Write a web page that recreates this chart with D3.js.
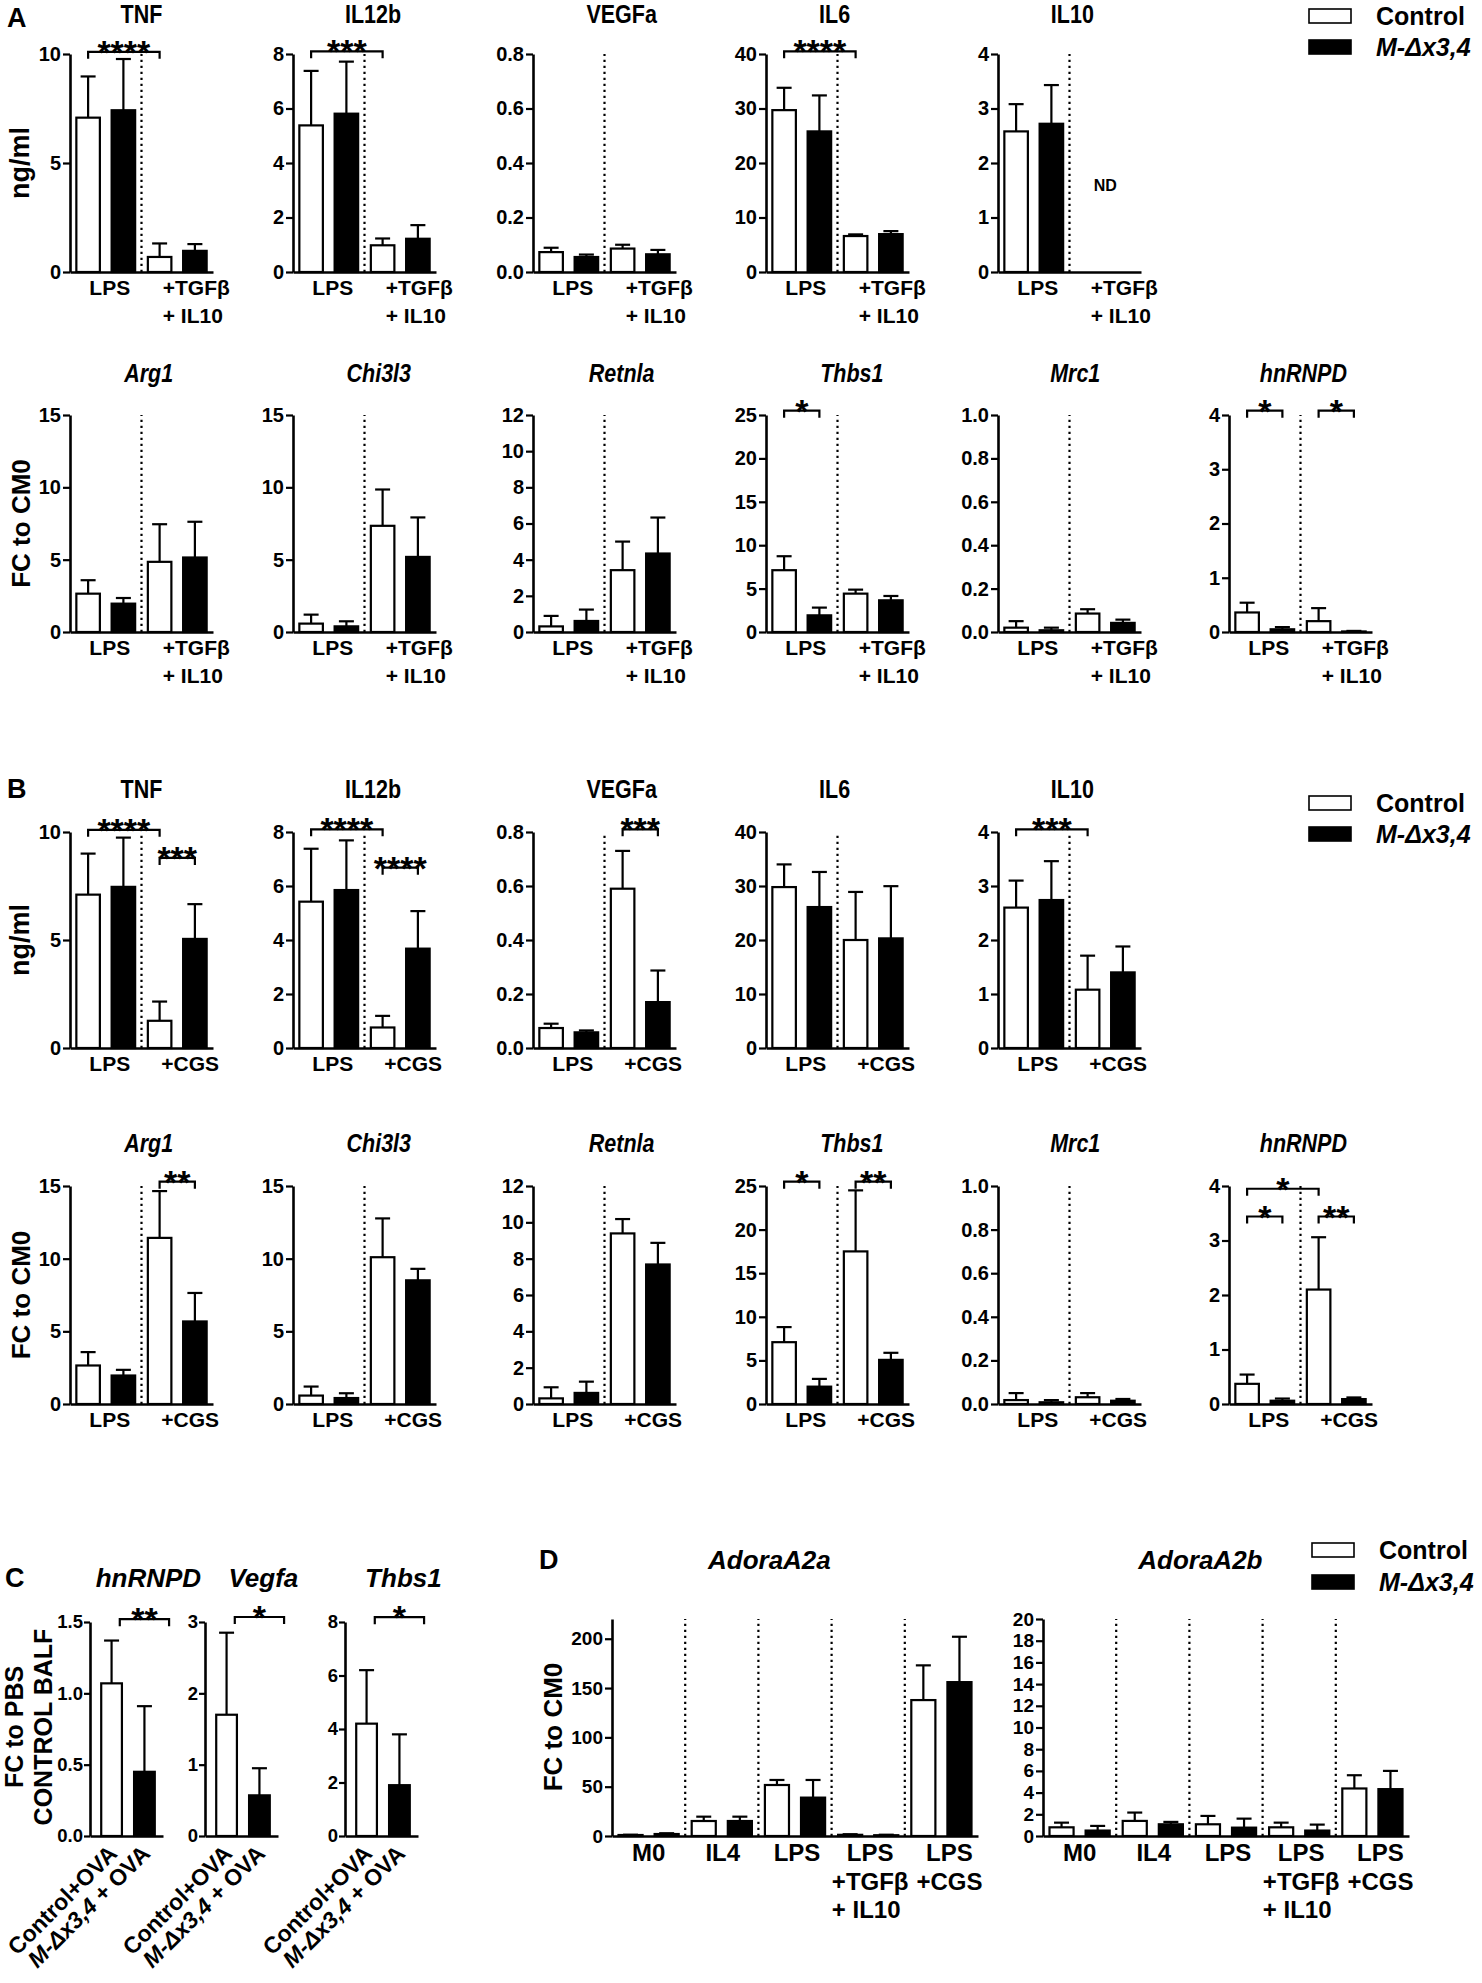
<!DOCTYPE html>
<html><head><meta charset="utf-8">
<script src="https://cdn.jsdelivr.net/npm/d3@7"></script>
<style>body{margin:0;background:#fff}</style>
</head><body>
<svg id="fig" width="1482" height="1983" xmlns="http://www.w3.org/2000/svg"></svg>
<script>
// ================= DATA =================
const seriesNames = ["Control", "M-Δx3,4"];
const groupsTGF = [["LPS"], ["+TGFβ", "+ IL10"]];
const groupsCGS = [["LPS"], ["+CGS"]];
const groupsD = [["M0"], ["IL4"], ["LPS"], ["LPS", "+TGFβ", "+ IL10"], ["LPS", "+CGS"]];
const catsC = ["Control+OVA", "M-Δx3,4 + OVA"];

// ---- A, top row: cytokines (ng/ml), LPS vs LPS+TGFβ+IL10 ----
const cytoTitles = ["TNF", "IL12b", "VEGFa", "IL6", "IL10"];
const cytoTicks = [["0","5","10"], ["0","2","4","6","8"], ["0.0","0.2","0.4","0.6","0.8"], ["0","10","20","30","40"], ["0","1","2","3","4"]];
// mean[panel][group][series]
const a1Mean = [
  [[7.08, 7.42], [0.69, 0.97]],
  [[5.38, 5.81], [0.98, 1.22]],
  [[0.073, 0.055], [0.086, 0.065]],
  [[29.7, 25.8], [6.6, 6.95]],
  [[2.58, 2.72], [null, null]]
];
// mean + error (top of error bar)
const a1Err = [
  [[8.97, 9.77], [1.31, 1.28]],
  [[7.38, 7.72], [1.23, 1.72]],
  [[0.089, 0.064], [0.10, 0.081]],
  [[33.8, 32.4], [6.9, 7.5]],
  [[3.08, 3.43], [null, null]]
];
const a1Sig = [
  [{a: 0, b: 2, y: 10.1, t: "****"}],
  [{a: 0, b: 2, y: 8.1, t: "***"}],
  [],
  [{a: 0, b: 2, y: 40.5, t: "****"}],
  []
];
const a1NotDetected = [null, null, null, null, {group: 1, text: "ND"}];

// ---- A, bottom row: genes (FC to CM0) ----
const geneTitles = ["Arg1", "Chi3l3", "Retnla", "Thbs1", "Mrc1", "hnRNPD"];
const geneTicks = [["0","5","10","15"], ["0","5","10","15"], ["0","2","4","6","8","10","12"], ["0","5","10","15","20","25"], ["0.0","0.2","0.4","0.6","0.8","1.0"], ["0","1","2","3","4"]];
const a2Mean = [
  [[2.65, 1.96], [4.85, 5.15]],
  [[0.58, 0.39], [7.34, 5.19]],
  [[0.31, 0.61], [3.42, 4.34]],
  [[7.12, 1.92], [4.42, 3.65]],
  [[0.02, 0.008], [0.085, 0.042]],
  [[0.36, 0.05], [0.2, 0.01]]
];
const a2Err = [
  [[3.58, 2.35], [7.45, 7.62]],
  [[1.2, 0.74], [9.85, 7.92]],
  [[0.89, 1.24], [5.0, 6.33]],
  [[8.73, 2.81], [4.88, 4.15]],
  [[0.05, 0.02], [0.105, 0.057]],
  [[0.54, 0.09], [0.44, 0.02]]
];
const a2Sig = [
  [], [], [],
  [{a: 0, b: 1, y: 25.5, t: "*"}],
  [],
  [{a: 0, b: 1, y: 4.08, t: "*"}, {a: 2, b: 3, y: 4.08, t: "*"}]
];

// ---- B, top row: cytokines, LPS vs LPS+CGS ----
const b1Mean = [
  [[7.1, 7.46], [1.26, 5.05]],
  [[5.42, 5.85], [0.76, 3.68]],
  [[0.074, 0.058], [0.59, 0.17]],
  [[29.8, 26.1], [20.0, 20.3]],
  [[2.6, 2.74], [1.08, 1.4]]
];
const b1Err = [
  [[9.0, 9.74], [2.15, 6.66]],
  [[7.38, 7.69], [1.19, 5.07]],
  [[0.09, 0.065], [0.73, 0.287]],
  [[34.0, 32.6], [28.9, 29.97]],
  [[3.1, 3.46], [1.71, 1.88]]
];
const b1Sig = [
  [{a: 0, b: 2, y: 10.1, t: "****"}, {a: 2, b: 3, y: 8.8, t: "***"}],
  [{a: 0, b: 2, y: 8.1, t: "****"}, {a: 2, b: 3, y: 6.68, t: "****"}],
  [{a: 2, b: 3, y: 0.81, t: "***"}],
  [],
  [{a: 0, b: 2, y: 4.05, t: "***"}]
];

// ---- B, bottom row: genes, LPS vs LPS+CGS ----
const b2Mean = [
  [[2.65, 1.96], [11.43, 5.68]],
  [[0.58, 0.41], [10.1, 8.51]],
  [[0.31, 0.61], [9.39, 7.68]],
  [[7.09, 1.99], [17.5, 5.06]],
  [[0.018, 0.008], [0.031, 0.015]],
  [[0.37, 0.06], [2.1, 0.09]]
];
const b2Err = [
  [[3.57, 2.35], [14.65, 7.64]],
  [[1.2, 0.74], [12.77, 9.3]],
  [[0.92, 1.23], [10.18, 8.87]],
  [[8.82, 2.88], [24.5, 5.87]],
  [[0.05, 0.018], [0.05, 0.023]],
  [[0.54, 0.1], [3.06, 0.12]]
];
const b2Sig = [
  [{a: 2, b: 3, y: 15.3, t: "**"}],
  [], [],
  [{a: 0, b: 1, y: 25.5, t: "*"}, {a: 2, b: 3, y: 25.5, t: "**"}],
  [],
  [{a: 0, b: 2, y: 3.95, t: "*"}, {a: 0, b: 1, y: 3.44, t: "*"}, {a: 2, b: 3, y: 3.44, t: "**"}]
];

// ---- C: BALF (FC to PBS control BALF) ----
const cTitles = ["hnRNPD", "Vegfa", "Thbs1"];
const cTicks = [["0.0","0.5","1.0","1.5"], ["0","1","2","3"], ["0","2","4","6","8"]];
const cMean = [[1.07, 0.45], [1.7, 0.57], [4.2, 1.9]];
const cErr = [[1.37, 0.91], [2.85, 0.95], [6.2, 3.8]];
const cSig = [
  [{a: 0.25, b: 1.75, y: 1.52, t: "**"}],
  [{a: 0.25, b: 1.75, y: 3.07, t: "*"}],
  [{a: 0.25, b: 1.75, y: 8.18, t: "*"}]
];

// ---- D: adenosine receptors (FC to CM0) ----
const dTitles = ["AdoraA2a", "AdoraA2b"];
const dTicks = [["0","50","100","150","200"], ["0","2","4","6","8","10","12","14","16","18","20"]];
const dAxisMax = [220, 20];
const dMean = [
  [[1.0, 2.0], [15.2, 15.2], [51.7, 38.9], [1.2, 0.8], [137.8, 156]],
  [[0.8, 0.5], [1.39, 1.08], [1.08, 0.77], [0.8, 0.5], [4.38, 4.32]]
];
const dErr = [
  [[1.3, 2.8], [19.6, 19.6], [56.8, 56.8], [1.8, 1.3], [173, 202]],
  [[1.23, 0.93], [2.16, 1.3], [1.85, 1.6], [1.23, 1.05], [5.6, 6.0]]
];

// ================= DRAWING =================
const svg = d3.select("#fig");
svg.append("rect").attr("width", 1482).attr("height", 1983).attr("fill", "#fff");
const SANS = "'Liberation Sans',Arial,Helvetica,sans-serif";

function italicLabel(sel, text) {
  const m = "M-Δx3,4";
  if (text.startsWith(m)) {
    sel.append("tspan").attr("font-style", "italic").text(m);
    const rest = text.slice(m.length);
    if (rest) sel.append("tspan").text(rest);
  } else sel.text(text);
}

function drawPanel(o) {
  const g = svg.append("g");
  const yMax = o.yMax != null ? o.yMax : +o.ticks[o.ticks.length - 1];
  const y = d3.scaleLinear().domain([0, yMax]).range([o.base, o.top]);
  const nG = o.mean.length;
  const xg = d3.scaleBand().domain(d3.range(nG)).range([o.x0 + (o.padL || 0), o.x0 + o.w]);
  const xs = d3.scaleBand().domain([0, 1]).range([0, xg.bandwidth()]).paddingInner(o.pin).paddingOuter(o.pout);
  const bw = xs.bandwidth();
  const centers = [];
  for (let gi = 0; gi < nG; gi++) for (let s = 0; s < 2; s++) centers.push(xg(gi) + xs(s) + bw / 2);
  const cx = i => {
    const n = centers.length;
    const lo = Math.max(0, Math.min(n - 2, Math.floor(i)));
    return centers[lo] + (i - lo) * (centers[lo + 1] - centers[lo]);
  };

  if (o.dividers) {
    for (let gi = 1; gi < nG; gi++) {
      g.append("line").attr("x1", xg(gi)).attr("x2", xg(gi))
        .attr("y1", o.base).attr("y2", o.top)
        .attr("stroke", "#000").attr("stroke-width", 2.2).attr("stroke-dasharray", "2.2,3.8");
    }
  }

  o.mean.forEach((grp, gi) => grp.forEach((m, s) => {
    if (m == null) return;
    const x = xg(gi) + xs(s), c = x + bw / 2;
    const t = o.err[gi][s];
    if (t != null && t > m) {
      g.append("line").attr("x1", c).attr("x2", c).attr("y1", y(m)).attr("y2", y(t))
        .attr("stroke", "#000").attr("stroke-width", 2.2);
      g.append("line").attr("x1", c - 7.5).attr("x2", c + 7.5).attr("y1", y(t)).attr("y2", y(t))
        .attr("stroke", "#000").attr("stroke-width", 2.2);
    }
    g.append("rect").attr("x", x).attr("y", y(m)).attr("width", bw)
      .attr("height", Math.max(0, o.base - y(m)))
      .attr("fill", s ? "#000" : "#fff").attr("stroke", "#000").attr("stroke-width", 2.2);
  }));

  const xl = d3.scaleLinear().domain([0, 1]).range([o.x0, o.x0 + o.w]);
  g.append("g").attr("transform", `translate(0,${o.base})`)
    .call(d3.axisBottom(xl).tickValues([]).tickSizeOuter(0))
    .select(".domain").attr("stroke", "#000").attr("stroke-width", 2.6);

  const ax = d3.axisLeft(y).tickValues(o.ticks.map(Number)).tickFormat((d, i) => o.ticks[i])
    .tickSize(o.tickLen || 7).tickSizeOuter(0).tickPadding(o.tickPad != null ? o.tickPad : 2);
  const ag = g.append("g").attr("transform", `translate(${o.x0},0)`).call(ax);
  ag.attr("font-family", SANS).attr("font-size", o.tickSize).attr("font-weight", "bold");
  ag.select(".domain").attr("stroke", "#000").attr("stroke-width", 2.6);
  ag.selectAll(".tick line").attr("stroke", "#000").attr("stroke-width", 2.2);
  ag.selectAll(".tick text").attr("fill", "#000");

  if (o.groups) {
    o.groups.forEach((lines, gi) => {
      const xc = xg(gi) + xg.bandwidth() / 2 + (o.labelShift ? o.labelShift[gi] : 0);
      let prev = null;
      lines.forEach((ln, k) => {
        const t = g.append("text").attr("font-family", SANS).attr("font-weight", "bold")
          .attr("font-size", o.labelSize).attr("y", o.base + o.labelDy + k * o.lineH).text(ln);
        if (prev && ln.startsWith("+ ")) {
          t.attr("x", prev.getBBox().x).attr("text-anchor", "start");
        } else {
          t.attr("x", xc).attr("text-anchor", "middle");
        }
        prev = t.node();
      });
    });
  }

  if (o.nd) {
    g.append("text").attr("x", xg(o.nd.group) + xg.bandwidth() / 2).attr("y", y(yMax * 0.4) + 6)
      .attr("text-anchor", "middle").attr("font-family", SANS).attr("font-weight", "bold")
      .attr("font-size", 16).text(o.nd.text);
  }

  (o.sig || []).forEach(b => {
    const x1 = cx(b.a), x2 = cx(b.b), yy = y(b.y);
    g.append("path").attr("d", `M${x1},${yy + 7}V${yy}H${x2}V${yy + 7}`)
      .attr("fill", "none").attr("stroke", "#000").attr("stroke-width", 2.2);
    g.append("text").attr("x", (x1 + x2) / 2).attr("y", yy + 12).attr("text-anchor", "middle")
      .attr("font-family", SANS).attr("font-weight", "bold").attr("font-size", 34).text(b.t);
  });

  g.append("text")
    .attr("transform", `translate(${o.x0 + o.titleFrac * o.w},${o.titleY}) scale(${o.titleSX || 1},1)`)
    .attr("text-anchor", "middle").attr("font-family", SANS)
    .attr("font-weight", "bold").attr("font-style", o.italic ? "italic" : "normal")
    .attr("font-size", o.titleSize).text(o.title);

  return {xg, xs, y, centers};
}

function yLabel(x, yc, text, size) {
  svg.append("text").attr("transform", `translate(${x},${yc}) rotate(-90)`)
    .attr("text-anchor", "middle").attr("font-family", SANS).attr("font-weight", "bold")
    .attr("font-size", size).text(text);
}
function panelLetter(x, y, t) {
  svg.append("text").attr("x", x).attr("y", y).attr("font-family", SANS).attr("font-weight", "bold")
    .attr("font-size", 27).text(t);
}
function legend(x, y1, y2) {
  seriesNames.forEach((name, i) => {
    const yc = i === 0 ? y1 : y2;
    svg.append("rect").attr("x", x).attr("y", yc - 7).attr("width", 42).attr("height", 14)
      .attr("fill", i ? "#000" : "#fff").attr("stroke", "#000").attr("stroke-width", 1.6);
    svg.append("text").attr("x", x + 67).attr("y", yc + 9).attr("font-family", SANS)
      .attr("font-weight", "bold").attr("font-size", 25).attr("font-style", i ? "italic" : "normal")
      .text(name);
  });
}

// ---- rows A/B ----
const colX = [70, 293, 533, 766, 998, 1229];
const titleFracs = [0.5, 0.56, 0.62, 0.48, 0.52, 0.52];
const geneTitleFracs = [0.55, 0.6, 0.62, 0.6, 0.54, 0.52];
const rowsAB = [
  {titles: cytoTitles, ticks: cytoTicks, mean: a1Mean, err: a1Err, sig: a1Sig, groups: groupsTGF, italic: false, top: 54, base: 272, titleY: 23, ylab: "ng/ml", ylx: 29, yls: 27, nd: a1NotDetected, fr: titleFracs, shift: [4, 19]},
  {titles: geneTitles, ticks: geneTicks, mean: a2Mean, err: a2Err, sig: a2Sig, groups: groupsTGF, italic: true, top: 415, base: 632, titleY: 382, ylab: "FC to CM0", ylx: 30, yls: 26, fr: geneTitleFracs, shift: [4, 19]},
  {titles: cytoTitles, ticks: cytoTicks, mean: b1Mean, err: b1Err, sig: b1Sig, groups: groupsCGS, italic: false, top: 832, base: 1048, titleY: 798, ylab: "ng/ml", ylx: 29, yls: 27, fr: titleFracs, shift: [4, 13]},
  {titles: geneTitles, ticks: geneTicks, mean: b2Mean, err: b2Err, sig: b2Sig, groups: groupsCGS, italic: true, top: 1186, base: 1404, titleY: 1152, ylab: "FC to CM0", ylx: 30, yls: 26, fr: geneTitleFracs, shift: [4, 13]}
];
rowsAB.forEach(r => {
  r.titles.forEach((title, i) => {
    drawPanel({
      x0: colX[i], w: 143, top: r.top, base: r.base, ticks: r.ticks[i],
      mean: r.mean[i], err: r.err[i], sig: r.sig[i], groups: r.groups,
      nd: r.nd ? r.nd[i] : null, dividers: true, pin: 0.333, pout: 0.18,
      tickSize: 20, labelSize: 21, labelDy: 23, lineH: 28, labelShift: r.shift,
      title, titleFrac: r.fr[i], titleY: r.titleY, titleSize: 25, titleSX: 0.86, italic: r.italic
    });
  });
  yLabel(r.ylx, (r.top + r.base) / 2, r.ylab, r.yls);
});
panelLetter(7, 27, "A");
panelLetter(7, 798, "B");
legend(1309, 16, 47);
legend(1309, 803, 834);

// ---- C ----
const cX = [90, 205, 345];
cTitles.forEach((title, i) => {
  const p = drawPanel({
    x0: cX[i], w: 73, padL: 3, top: 1622, base: 1836, ticks: cTicks[i],
    mean: [cMean[i]], err: [cErr[i]], sig: cSig[i], groups: null, dividers: false,
    pin: 0.37, pout: 0.25, tickSize: 18.5, tickLen: 6, tickPad: 1,
    title, titleFrac: 0.8, titleY: 1587, titleSize: 26, italic: true
  });
  catsC.forEach((cat, s) => {
    const t = svg.append("text")
      .attr("transform", `translate(${p.centers[s] + 7},${1836 + 19}) rotate(-45)`)
      .attr("text-anchor", "end").attr("font-family", SANS).attr("font-weight", "bold")
      .attr("font-size", 23);
    italicLabel(t, cat);
  });
});
panelLetter(5, 1587, "C");
svg.append("text").attr("transform", "translate(23,1727) rotate(-90)").attr("text-anchor", "middle")
  .attr("font-family", SANS).attr("font-weight", "bold").attr("font-size", 25).text("FC to PBS");
svg.append("text").attr("transform", "translate(52,1727) rotate(-90)").attr("text-anchor", "middle")
  .attr("font-family", SANS).attr("font-weight", "bold").attr("font-size", 25).text("CONTROL BALF");

// ---- D ----
const dX = [612, 1043];
dTitles.forEach((title, i) => {
  drawPanel({
    x0: dX[i], w: 366, top: 1619, base: 1836, ticks: dTicks[i], yMax: dAxisMax[i],
    mean: dMean[i], err: dErr[i], sig: [], groups: groupsD, dividers: true,
    pin: 0.333, pout: 0.18, tickSize: 19, labelSize: 24, labelDy: 25, lineH: 28.5,
    labelShift: [0, 1, 2, 2, 8],
    title, titleFrac: 0.43, titleY: 1569, titleSize: 26, italic: true
  });
});
panelLetter(539, 1569, "D");
yLabel(562, 1727, "FC to CM0", 26);
legend(1312, 1550, 1582);
</script>
</body></html>
